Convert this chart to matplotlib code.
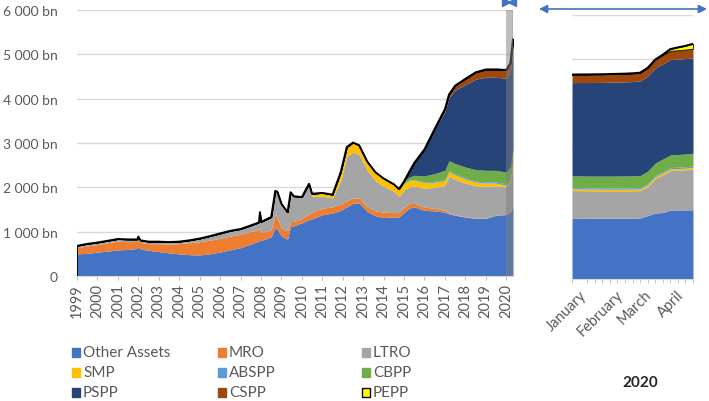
import matplotlib.pyplot as plt
import numpy as np
from matplotlib.patches import Rectangle

# ---- data (bn EUR), long-run panel --------------------------------------
dates = [1999.0, 1999.5, 2000.0, 2000.5, 2001.0, 2001.5, 2001.95, 2002.0, 2002.1, 2002.5,
         2003.0, 2003.5, 2004.0, 2004.5, 2005.0, 2005.5, 2006.0, 2006.5, 2007.0, 2007.5,
         2007.9, 2007.95, 2008.0, 2008.5, 2008.7, 2008.8, 2009.0, 2009.3, 2009.45, 2009.6,
         2010.0, 2010.35, 2010.5, 2011.0, 2011.5, 2011.9, 2012.2, 2012.5, 2012.8, 2013.2,
         2013.6, 2014.0, 2014.5, 2014.75, 2015.0, 2015.25, 2015.5, 2016.0, 2016.5, 2017.0,
         2017.2, 2017.5, 2018.0, 2018.5, 2019.0, 2019.5, 2020.0, 2020.2, 2020.33]
other_assets = [500, 510, 540, 560, 590, 600, 620, 660, 610, 580,
                550, 520, 500, 480, 475, 500, 540, 590, 640, 720,
                790, 800, 800, 880, 1100, 1050, 900, 830, 1130, 1130,
                1200, 1270, 1290, 1380, 1420, 1480, 1560, 1640, 1650, 1450,
                1360, 1320, 1330, 1330, 1430, 1530, 1560, 1480, 1470, 1440,
                1400, 1370, 1330, 1300, 1300, 1370, 1385, 1440, 1572]
mro = [140, 170, 170, 190, 195, 175, 160, 180, 150, 150,
       180, 200, 230, 270, 300, 310, 310, 310, 300, 290,
       240, 300, 180, 160, 300, 250, 180, 190, 100, 100,
       100, 130, 150, 150, 140, 140, 140, 120, 110, 110,
       110, 120, 100, 100, 120, 100, 80, 70, 60, 40,
       20, 10, 5, 5, 5, 5, 2, 2, 2]
ltro = [40, 45, 45, 45, 50, 50, 45, 50, 45, 45,
        45, 45, 45, 55, 70, 90, 110, 120, 120, 130,
        180, 340, 240, 290, 520, 600, 550, 420, 660, 570,
        480, 640, 360, 270, 200, 520, 1000, 1040, 980, 820,
        680, 580, 480, 360, 390, 380, 390, 430, 470, 560,
        830, 800, 760, 730, 720, 660, 620, 660, 925]
smp = [0] * 31 + [40, 55, 75, 75, 200, 210, 210, 210, 200,
                  190, 180, 160, 150, 145, 140, 130, 120, 115, 110,
                  105, 100, 92, 82, 72, 60, 40, 40, 38]
abspp = [0] * 43 + [2, 5, 8, 12, 18, 20, 24,
                    25, 25, 25, 27, 27, 27, 30, 30, 31]
cbpp = [0] * 43 + [20, 45, 70, 100, 140, 175, 210,
                   220, 230, 245, 255, 260, 260, 265, 278, 290]
pspp = [0] * 45 + [120, 280, 600, 1000, 1320,
                   1420, 1660, 1860, 2040, 2100, 2100, 2120, 2160, 2170]
cspp = [0] * 48 + [10, 60,
                   75, 100, 130, 155, 175, 178, 185, 190, 206]
pepp = [0] * 58 + [112]

# ---- data (bn EUR), weekly 2020 panel -----------------------------------
weeks = ["03 Jan", "10 Jan", "17 Jan", "24 Jan", "31 Jan", "07 Feb", "14 Feb", "21 Feb",
         "28 Feb", "06 Mar", "13 Mar", "20 Mar", "27 Mar", "03 Apr", "10 Apr", "17 Apr",
         "24 Apr"]
w_other_assets = [1385, 1385, 1383, 1382, 1380, 1380, 1380, 1380, 1382, 1385, 1440,
                  1500, 1510, 1565, 1570, 1570, 1572]
w_mro = [2, 2, 2, 2, 2, 2, 2, 2, 2, 2, 2, 2, 2, 2, 2, 2, 2]
w_ltro = [620, 620, 618, 618, 618, 618, 618, 618, 618, 620, 660, 780, 860, 895, 900,
          910, 925]
w_smp = [40, 40, 40, 40, 40, 40, 40, 40, 40, 40, 40, 39, 39, 38, 38, 38, 38]
w_abspp = [30, 30, 30, 30, 30, 30, 30, 30, 30, 30, 30, 30, 31, 31, 31, 31, 31]
w_cbpp = [265, 266, 266, 267, 268, 269, 270, 271, 272, 274, 278, 282, 285, 287, 288,
          289, 290]
w_pspp = [2120, 2122, 2125, 2128, 2130, 2133, 2136, 2140, 2143, 2150, 2160, 2160, 2165,
          2168, 2168, 2170, 2170]
w_cspp = [185, 185, 186, 186, 186, 187, 187, 187, 188, 188, 190, 195, 198, 200, 202,
          204, 206]
w_pepp = [0, 0, 0, 0, 0, 0, 0, 0, 0, 0, 0, 0, 10, 40, 65, 85, 112]

labels = ["Other Assets", "MRO", "LTRO", "SMP", "ABSPP", "CBPP", "PSPP", "CSPP", "PEPP"]
colors = ["#4472C4", "#ED7D31", "#A5A5A5", "#FFC000", "#5B9BD5", "#70AD47",
          "#264478", "#9E480E", "#FFFF00"]
month_labels = ["January", "February", "March", "April"]
year_ticks = list(range(1999, 2021))

plt.rcParams["font.family"] = ["Lato", "DejaVu Sans"]
GREY_TXT = "#595959"
GRID = "#D9D9D9"


def draw_stack(ax, x, series, left_edge=True):
    base = np.zeros(len(x))
    for vals, color in zip(series, colors):
        top = base + np.asarray(vals, dtype=float)
        if color == "#FFFF00":
            ax.fill_between(x, base, top, facecolor=color, edgecolor="black", lw=0.6, zorder=2)
        else:
            ax.fill_between(x, base, top, color=color, lw=0, zorder=2)
        base = top
    if left_edge:
        ax.plot(np.r_[x[0], x], np.r_[0, base], color="black", lw=1.4, zorder=3)
    else:
        ax.plot(x, base, color="black", lw=1.4, zorder=3)


fig = plt.figure(figsize=(7.09, 4.02), dpi=100)
W, H = 709, 402

# ---- left panel ----------------------------------------------------------
ax = fig.add_axes([77 / W, 1 - 277 / H, (513 - 77) / W, (277 - 11) / H])
draw_stack(ax, np.array(dates),
           [other_assets, mro, ltro, smp, abspp, cbpp, pspp, cspp, pepp])
ax.set_xlim(1999, 2020.33)
ax.set_ylim(0, 6000)
ax.set_yticks(range(0, 6001, 1000))
ax.set_yticklabels(["0"] + [f"{v // 1000} 000 bn" for v in range(1000, 6001, 1000)])
ax.set_xticks(year_ticks)
ax.set_xticklabels([str(y) for y in year_ticks], rotation=90)
ax.grid(axis="y", color=GRID, lw=1, zorder=0)
ax.set_axisbelow(True)
for s in ["top", "right", "left"]:
    ax.spines[s].set_visible(False)
ax.spines["bottom"].set_color(GRID)
ax.tick_params(axis="y", length=0, pad=14, labelsize=10, labelcolor=GREY_TXT)
ax.tick_params(axis="x", length=3, color="#BFBFBF", pad=2, labelsize=10.5,
               labelcolor=GREY_TXT)
ax.axvspan(2020.0, 2020.33, facecolor="#7F7F7F", alpha=0.5, lw=0, zorder=4)
ax.axvline(2020.33, color="#7F7F7F", lw=1, zorder=4)
# small bow-tie marker above the 2020 strip
ax.plot([2019.98], [6170], marker=">", color="#4472C4", ms=5.5, clip_on=False)
ax.plot([2020.26], [6170], marker="<", color="#4472C4", ms=5.5, clip_on=False)

# ---- right panel ---------------------------------------------------------
ax2 = fig.add_axes([572 / W, 1 - 280 / H, (693 - 572) / W, (280 - 16) / H])
wx = np.arange(len(weeks))
draw_stack(ax2, wx, [w_other_assets, w_mro, w_ltro, w_smp, w_abspp, w_cbpp,
                     w_pspp, w_cspp, w_pepp], left_edge=False)
ax2.set_xlim(0, len(weeks) - 1)
ax2.set_ylim(0, 6000)
ax2.set_yticks(range(0, 6001, 1000))
ax2.set_yticklabels([])
ax2.grid(axis="y", color=GRID, lw=1, zorder=0)
ax2.set_axisbelow(True)
for s in ["top", "right", "left"]:
    ax2.spines[s].set_visible(False)
ax2.spines["bottom"].set_color(GRID)
ax2.tick_params(axis="y", length=0)
ax2.set_xticks(wx, minor=True)
ax2.set_xticks([1.0, 5.8, 9.6, 13.8])
ax2.set_xticklabels(month_labels, rotation=45, ha="right", rotation_mode="anchor")
ax2.tick_params(axis="x", which="major", length=0, pad=6, labelsize=10.5,
                labelcolor=GREY_TXT)
ax2.tick_params(axis="x", which="minor", length=3, color="#BFBFBF")

fig.text(640 / W, 1 - 383 / H, "2020", ha="center", va="center", fontsize=11,
         fontweight="bold", color="#262626")

# zoom arrow above the right panel
ax2.annotate("", xy=(707 / W, 1 - 10 / H), xytext=(539 / W, 1 - 10 / H),
             xycoords="figure fraction", textcoords="figure fraction",
             arrowprops=dict(arrowstyle="<|-|>", color="#4472C4", lw=1.2,
                             mutation_scale=12, shrinkA=0, shrinkB=0))

# ---- legend (3 x 3 grid) ------------------------------------------------
col_x = [72, 218, 362]
row_y = [353, 373, 393]
for i, (lab, col) in enumerate(zip(labels, colors)):
    cx = col_x[i % 3]
    cy = row_y[i // 3]
    ec = "black" if lab == "PEPP" else col
    fig.patches.append(Rectangle((cx / W, 1 - (cy + 4.5) / H), 8 / W, 9 / H,
                                 facecolor=col, edgecolor=ec, lw=1.0,
                                 transform=fig.transFigure, figure=fig))
    fig.text((cx + 11) / W, 1 - cy / H, lab, ha="left", va="center", fontsize=11,
             color=GREY_TXT)

fig.savefig("out.png", dpi=100)
